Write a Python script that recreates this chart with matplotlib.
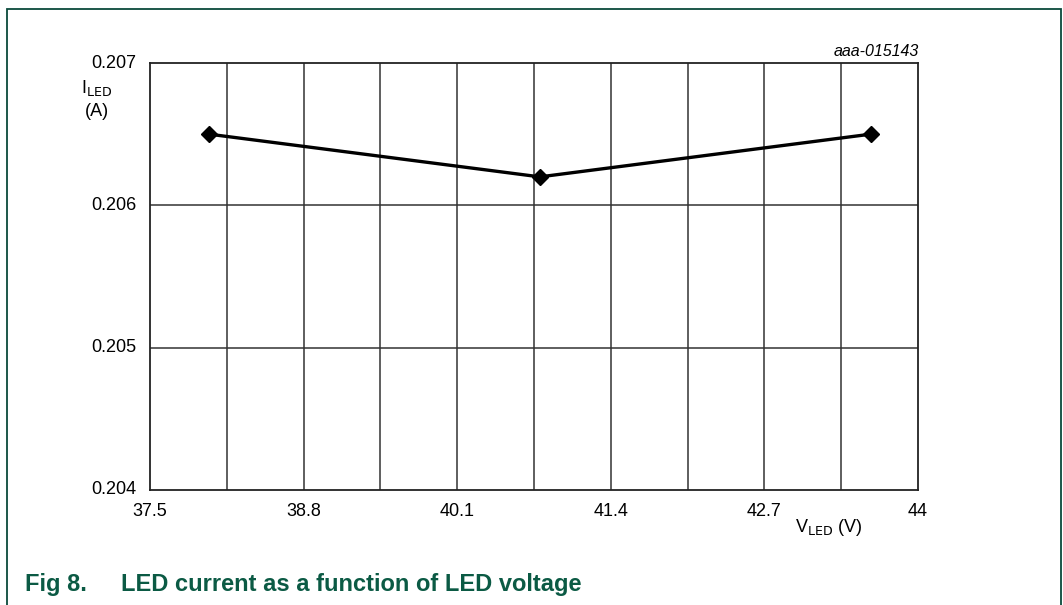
import matplotlib
matplotlib.use('Agg')
import matplotlib.pyplot as plt
from matplotlib.patches import Rectangle
import numpy as np

plt.rcParams['font.family'] = ['Liberation Sans', 'DejaVu Sans']

v_led = [38.0, 40.8, 43.6]
i_led = [0.2065, 0.2062, 0.2065]
x_ticks = [37.5, 38.8, 40.1, 41.4, 42.7, 44]
x_tick_labels = ['37.5', '38.8', '40.1', '41.4', '42.7', '44']
y_ticks = [0.204, 0.205, 0.206, 0.207]
y_tick_labels = ['0.204', '0.205', '0.206', '0.207']

W, H = 1063, 605
fig = plt.figure(figsize=(W / 100, H / 100), dpi=100)

# plot area in pixels: left 150, right 918, top 63, bottom 490
ax = fig.add_axes([150 / W, 1 - 490 / H, (918 - 150) / W, (490 - 63) / H])

ax.set_xlim(37.5, 44)
ax.set_ylim(0.204, 0.207)

# vertical grid every 0.65, horizontal every 0.001
for xv in np.arange(37.5 + 0.65, 44 - 0.01, 0.65):
    ax.axvline(xv, color='#333333', lw=1.1, zorder=1)
for yv in y_ticks[1:-1]:
    ax.axhline(yv, color='#333333', lw=1.1, zorder=1)

ax.plot(v_led, i_led, color='black', lw=2.4, marker='D', markersize=8.5, zorder=3)

ax.set_xticks(x_ticks)
ax.set_xticklabels(x_tick_labels, fontsize=13)
ax.set_yticks(y_ticks)
ax.set_yticklabels(y_tick_labels, fontsize=13)
ax.tick_params(axis='x', length=0, pad=9)
ax.tick_params(axis='y', length=0, pad=10)
for lbl in ax.get_yticklabels():
    lbl.set_verticalalignment('center')
for sp in ax.spines.values():
    sp.set_color('#222222')
    sp.set_linewidth(1.3)

# axis labels
fig.text(97 / W, 1 - 88 / H, r'I$_{\mathrm{LED}}$', fontsize=13, ha='center', va='center')
fig.text(97 / W, 1 - 111 / H, '(A)', fontsize=13, ha='center', va='center')
fig.text(829 / W, 1 - 528 / H, r'V$_{\mathrm{LED}}$ (V)', fontsize=13, ha='center', va='center')

fig.text(919 / W, 1 - 52 / H, 'aaa-015143', fontsize=11.5, style='italic', ha='right', va='center')

# frame
fig.patches.append(Rectangle((7 / W, -0.05), (1061 - 7) / W, 1 - 9 / H + 0.05,
                             transform=fig.transFigure, fill=False,
                             edgecolor='#0b4a3c', lw=1.3))

fig.text(25 / W, 1 - 585 / H, 'Fig 8.', fontsize=17, weight='bold', color='#0b5a44',
         ha='left', va='center')
fig.text(121 / W, 1 - 585 / H, 'LED current as a function of LED voltage', fontsize=17,
         weight='bold', color='#0b5a44', ha='left', va='center')

fig.savefig('out.png', dpi=100)
